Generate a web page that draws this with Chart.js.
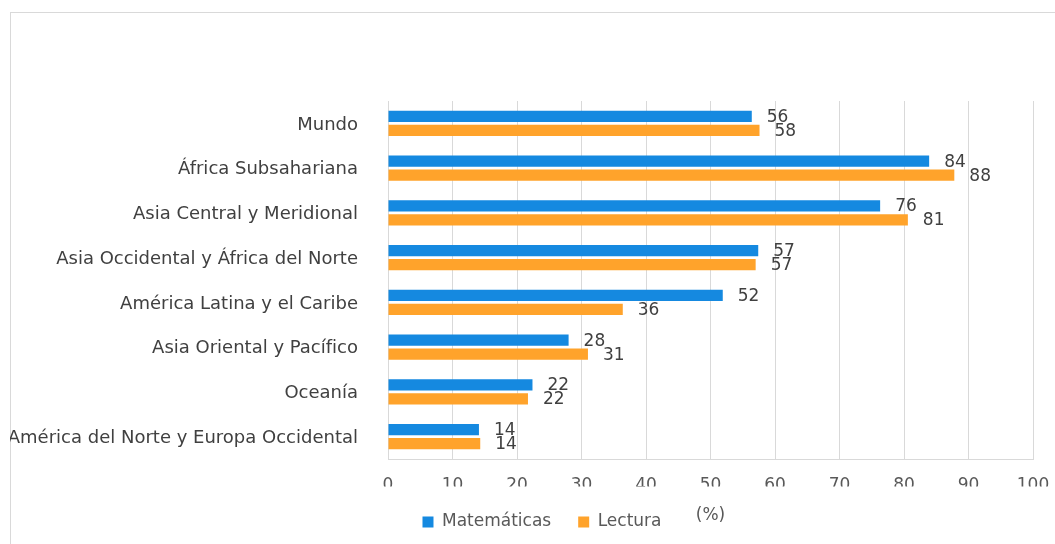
<!DOCTYPE html>
<html lang="es">
<head>
<meta charset="utf-8">
<script src="https://cdn.jsdelivr.net/npm/chart.js@4.4.1/dist/chart.umd.min.js"></script>
<style>
  html, body { margin:0; padding:0; background:#fff; overflow:hidden; }
  #frame { position:absolute; left:10px; top:12px; width:1100px; height:600px; border:1px solid #d9d9d9; box-sizing:border-box; }
  #wrap  { position:absolute; left:0; top:0; width:1055px; height:544px; }
</style>
</head>
<body>
<div id="frame"></div>
<div id="wrap"><canvas id="chart"></canvas></div>
<script>
// datos (% de niños que no alcanzan el nivel mínimo)
const regiones = [
  'Mundo',
  'África Subsahariana',
  'Asia Central y Meridional',
  'Asia Occidental y África del Norte',
  'América Latina y el Caribe',
  'Asia Oriental y Pacífico',
  'Oceanía',
  'América del Norte y Europa Occidental'
];
const matematicas = [56.4, 83.9, 76.3, 57.4, 51.9, 28.0, 22.4, 14.1];
const lectura     = [57.6, 87.8, 80.6, 57.0, 36.4, 31.0, 21.7, 14.3];
const series      = ['Matemáticas', 'Lectura'];
const ejeX        = { min:0, max:100, paso:10, titulo:'(%)' };

const COL = { mat:'#1589e0', lec:'#ffa32b', grid:'#d9d9d9', text:'#404040', tick:'#595959' };
const FONT = '"DejaVu Sans", Verdana, sans-serif';
const LEYENDA_CENTRO = 542;   // la leyenda va centrada en el marco, no en el eje

// valores al final de cada barra
const etiquetas = {
  id:'etiquetas',
  afterDatasetsDraw(chart) {
    const ctx = chart.ctx;
    ctx.save();
    ctx.font = '17px ' + FONT;
    ctx.fillStyle = COL.text;
    ctx.textAlign = 'left'; ctx.textBaseline = 'middle';
    chart.data.datasets.forEach((ds, i) => {
      chart.getDatasetMeta(i).data.forEach((bar, j) => {
        ctx.fillText(String(Math.round(ds.data[j])), bar.x + 15, bar.y + 1);
      });
    });
    ctx.restore();
  }
};

// "(%)" a la altura de la leyenda + desplazar la leyenda
const tituloX = {
  id:'tituloX',
  afterLayout(chart) {
    const lg = chart.legend; if (!lg) return;
    const d = LEYENDA_CENTRO - (lg.left + lg.right) / 2;
    lg.left += d; lg.right += d;
  },
  afterDraw(chart) {
    const sx = chart.scales.x, ctx = chart.ctx;
    ctx.save();
    ctx.font = '17px ' + FONT;
    ctx.fillStyle = COL.tick;
    ctx.textAlign = 'center'; ctx.textBaseline = 'middle';
    ctx.fillText(ejeX.titulo, (sx.left + sx.right) / 2, 516);
    ctx.restore();
  }
};

new Chart(document.getElementById('chart'), {
  type:'bar',
  data:{
    labels: regiones,
    datasets:[
      { label:series[0], data:matematicas, backgroundColor:COL.mat, categoryPercentage:0.626, barPercentage:0.786 },
      { label:series[1], data:lectura,     backgroundColor:COL.lec, categoryPercentage:0.626, barPercentage:0.786 }
    ]
  },
  options:{
    indexAxis:'y',
    responsive:true, maintainAspectRatio:false, animation:false,
    layout:{ padding:{ top:101, left:10, right:22, bottom:3.5 } },
    plugins:{
      legend:{ position:'bottom', align:'center',
        labels:{ boxWidth:11, boxHeight:11, padding:27, color:COL.tick, font:{ family:FONT, size:17 } } },
      tooltip:{ enabled:false }
    },
    scales:{
      x:{
        min:ejeX.min, max:ejeX.max,
        grid:{ color:COL.grid, lineWidth:1, drawTicks:false },
        border:{ display:true, color:COL.grid },
        ticks:{ stepSize:ejeX.paso, padding:16, color:COL.tick, font:{ family:FONT, size:17 } },
        afterFit: s => { s.height = 27.5; s.paddingRight = 0; s.paddingLeft = 0; }
      },
      y:{
        grid:{ display:false },
        border:{ display:false },
        ticks:{ padding:22, labelOffset:1.5, color:COL.text, font:{ family:FONT, size:18 } },
        afterFit: s => { s.width = 378; }
      }
    }
  },
  plugins:[etiquetas, tituloX]
});
</script>
</body>
</html>
